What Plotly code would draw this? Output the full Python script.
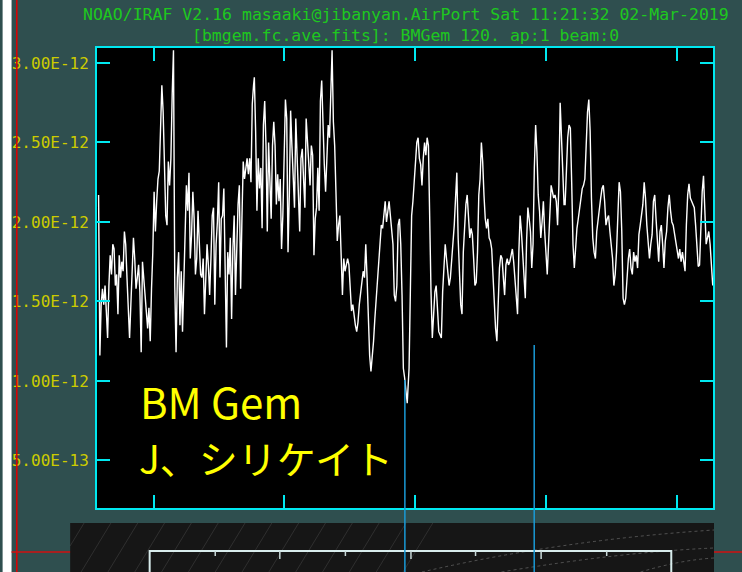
import numpy as np
import plotly.graph_objects as go

# ---------------- data (flux in units of 1e-12) ----------------
seg1_flux = [2.17,1.16,1.48,1.58,1.48,1.60,1.44,1.27,1.60,1.79,1.67,1.86,1.83,1.60,1.67,1.42,1.79,1.65,1.75,1.69,
             1.94,1.86,1.65,1.50,1.27,1.48,1.75,1.90,1.77,1.58,1.65,1.73,1.56,1.18,1.75,1.65,1.52,1.46,1.33,1.46,
             1.25,1.58,1.81,2.19,1.94,2.13,2.27,2.32,2.59,2.86,2.69,2.32,2.04,1.98,2.38,2.23,2.40,2.80,3.08,1.60,
             1.18,1.65,1.81,1.35,1.69,1.31,1.67,2.02,2.23,2.07,2.31,1.77,1.92,2.19,2.02,1.67,1.77,2.07,1.90,1.67,
             1.65,1.77,1.42,1.60,1.86,1.73,1.54,1.77,2.04,2.09,1.48,1.86,2.00,2.25,1.65,2.02,2.04,2.21,1.65,1.21,
             1.81,1.67,1.90,1.39,1.83,2.04,1.54,1.94,2.11,2.23,1.58,2.02,2.38,2.27,2.36,2.40,2.30,2.40,2.25,2.74,2.86]
seg2_flux = [2.91,2.57,2.07,2.40,2.21,2.34,1.96,2.61,2.76,2.48,1.94,2.50,2.27,2.02,2.48,2.63,2.48,2.11,2.30,2.13,
             2.27,1.83,2.04,2.42,2.77,2.65,1.81,2.17,2.70,2.48,2.21,2.09,2.65,2.44,2.27,1.94,2.40,2.46,2.27,2.09,
             2.65,2.50,2.32,2.23,2.48,2.42,1.79,2.02,2.09,2.34,2.07,2.76,2.89,2.55,2.36,2.19,2.46,2.61,2.53,2.84,
             3.08,2.63,2.48,2.19,1.88,1.98,2.04,1.79,1.54,1.77,1.69,1.73,1.77,1.73,1.56,1.44,1.48,1.39,1.35,1.31,
             1.37,1.48,1.56,1.60,1.69,1.65,1.86,1.65,1.31,1.16,1.06,1.14,1.25,1.39,1.52,1.62,1.73,1.90,1.98,1.96,
             2.07,2.13,2.00,2.09,2.13,2.04,1.94,1.86,1.54,1.50,1.60,1.98,2.02,1.86,1.54,1.08,1.02,0.91,0.86]
seg3_flux = [1.08,1.65,2.04,2.13,2.27,2.44,2.50,2.53,2.40,2.36,2.23,2.40,2.50,2.42,2.53,2.48,1.86,1.56,1.27,1.44,
             1.56,1.60,1.46,1.31,1.29,1.27,1.56,1.77,1.86,1.77,1.69,1.60,1.65,1.75,1.86,1.98,2.15,2.31,1.90,1.65,
             1.48,1.42,1.81,1.96,2.11,2.17,2.02,1.90,1.96,1.92,1.77,1.60,1.62,1.81,2.17,2.27,2.50,2.38,2.17,2.02,
             1.96,2.02,1.90,1.88,1.83,1.65,1.48,1.33,1.25,1.54,1.71,1.79,1.77,1.65,1.54,1.73,1.77,1.73,1.75,1.79,
             1.83,1.75,1.65,1.50,1.42,1.81,2.04,1.94,1.77,1.65,1.52,1.88,2.09,2.02,1.94,1.71,1.86,2.34,2.61,2.44,
             2.17,2.07,1.90,2.00,2.13,1.94,1.75,1.67,1.86,2.11,2.23,2.19,2.15,2.17,2.13,1.98,2.23,2.75,2.57,2.38,2.11]
seg4_flux = [2.11,2.34,2.53,2.61,2.59,2.25,1.86,1.71,1.86,1.96,2.02,2.09,2.17,2.21,2.23,2.27,2.48,2.69,2.77,2.57,
             2.15,1.90,1.81,1.77,1.94,2.02,2.07,2.15,2.21,2.23,2.13,1.98,2.02,2.04,1.94,1.86,1.77,1.60,1.67,1.81,
             2.02,2.25,2.19,1.94,1.52,1.48,1.52,1.65,1.77,1.83,1.71,1.67,1.81,1.75,1.79,1.71,1.92,1.98,2.04,2.11,
             2.25,2.15,1.98,1.86,1.77,1.86,1.92,2.13,2.17,2.02,1.88,1.75,1.94,1.98,1.86,1.71,1.88,1.94,2.09,2.17,
             2.07,2.00,1.98,1.92,1.88,1.81,1.77,1.83,1.75,1.81,1.75,1.69,1.98,2.17,2.24,2.15,2.13,2.11,2.09,1.98,
             1.81,1.72,1.73,1.98,2.19,2.29,2.11,1.86,1.90,1.94,1.86,1.75,1.60]
seg_flux = [seg1_flux, seg2_flux, seg3_flux, seg4_flux]
seg_wave_ranges = [(6479.0, 6538.2), (6538.5, 6596.9), (6597.6, 6656.8), (6657.2, 6713.6)]

x_tickvals = [6500, 6550, 6600, 6650, 6700]
x_ticktext = ["6500", "6550", "6600", "6650", "6700"]
y_tickvals = [5.0e-13, 1.0e-12, 1.5e-12, 2.0e-12, 2.5e-12, 3.0e-12]
y_ticktext = ["5.00E-13", "1.00E-12", "1.50E-12", "2.00E-12", "2.50E-12", "3.00E-12"]
marker_waves = [6596.0, 6645.4]
x_range = [6478.4, 6713.7]
y_range = [0.201e-12, 3.094e-12]

title1 = "NOAO/IRAF V2.16 masaaki@jibanyan.AirPort Sat 11:21:32 02-Mar-2019"
title2 = "[bmgem.fc.ave.fits]: BMGem 120. ap:1 beam:0"
label1 = "BM Gem"
label2 = "J、シリケイト"

# ---------------- build ----------------
wave = np.concatenate([np.linspace(a, b, len(f)) for (a, b), f in zip(seg_wave_ranges, seg_flux)])
flux = np.concatenate([np.array(f) for f in seg_flux]) * 1e-12

W, H = 742, 572
L, R, T, B = 93, 713, 48, 508
def px(x):
    return (x - L) / (R - L)
def py(y):
    return (B - y) / (B - T)

CYAN = "#00e8f0"
YEL = "#cccc00"
GREEN = "#1ec81e"
MONO = "DejaVu Sans Mono"

fig = go.Figure()
fig.add_trace(go.Scatter(x=wave, y=flux, mode="lines",
                         line=dict(color="white", width=1.4), hoverinfo="skip"))

axis_common = dict(showline=True, linecolor=CYAN, linewidth=2, mirror="allticks",
                   ticks="inside", ticklen=13, tickwidth=2, tickcolor=CYAN,
                   showgrid=False, zeroline=False)
fig.update_xaxes(range=x_range, tickvals=x_tickvals, ticktext=x_ticktext,
                 tickfont=dict(family=MONO, size=16, color=YEL), ticklabelstandoff=9,
                 **axis_common)
fig.update_yaxes(range=y_range, tickvals=y_tickvals, ticktext=y_ticktext,
                 tickfont=dict(family=MONO, size=16, color=YEL), ticklabelstandoff=3,
                 **axis_common)

shapes = []
# white strip at far left
shapes.append(dict(type="rect", xref="paper", yref="paper", x0=px(-2), x1=px(7), y0=py(-5), y1=py(580),
                   fillcolor="white", line=dict(width=0), layer="above"))
# red guide lines
shapes.append(dict(type="line", xref="paper", yref="paper", x0=px(12.3), x1=px(12.3), y0=py(-5), y1=py(580),
                   line=dict(color="#e00000", width=1.5), layer="above"))
shapes.append(dict(type="line", xref="paper", yref="paper", x0=px(7), x1=px(745), y0=py(552), y1=py(552),
                   line=dict(color="#d01010", width=1.5), layer="above"))
# dark image strip at the bottom
shapes.append(dict(type="rect", xref="paper", yref="paper", x0=px(66), x1=px(714), y0=py(523), y1=py(580),
                   fillcolor="#161616", line=dict(width=0), layer="above"))
# faint diagonal streaks in dark image
for k in range(14):
    x0 = 50 + k * 27
    shapes.append(dict(type="line", xref="paper", yref="paper", x0=px(max(x0, 66)), x1=px(x0 + 30),
                       y0=py(572 - (max(x0, 66) - x0) * 49 / 30), y1=py(523),
                       line=dict(color="rgba(110,110,110,0.28)", width=1), layer="above"))
# dotted arcs on the right
for (sx, sy, cx, cy, ex, ey) in [(420, 572, 560, 540, 714, 530), (500, 572, 620, 552, 714, 548),
                                 (640, 572, 680, 560, 714, 558)]:
    shapes.append(dict(type="path", xref="paper", yref="paper",
                       path=f"M {px(sx)},{py(sy)} Q {px(cx)},{py(cy)} {px(ex)},{py(ey)}",
                       line=dict(color="rgba(150,150,150,0.45)", width=1, dash="dot"), layer="above"))
# light framed box inside the image
shapes.append(dict(type="rect", xref="paper", yref="paper", x0=px(146), x1=px(671), y0=py(551), y1=py(585),
                   fillcolor="rgba(0,0,0,0)", line=dict(color="#d8ecec", width=2), layer="above"))
for i, tx in enumerate([212, 277, 343, 409, 474, 540, 606]):
    ln = 8 if i % 2 == 1 else 5
    shapes.append(dict(type="line", xref="paper", yref="paper", x0=px(tx), x1=px(tx), y0=py(551), y1=py(551 + ln),
                       line=dict(color="#c8d8d8", width=1.5), layer="above"))
# blue marker lines
for w, top in zip(marker_waves, [380, 345]):
    shapes.append(dict(type="line", xref="x", yref="paper", x0=w, x1=w, y0=py(top), y1=py(580),
                       line=dict(color="#1a9ad6", width=1.5), layer="above"))

annotations = [
    dict(text=title1, xref="paper", yref="paper", x=px(404), y=py(14.5), xanchor="center", yanchor="middle",
         showarrow=False, font=dict(family=MONO, size=16.5, color=GREEN)),
    dict(text=title2, xref="paper", yref="paper", x=px(404), y=py(35), xanchor="center", yanchor="middle",
         showarrow=False, font=dict(family=MONO, size=16.5, color=GREEN)),
    dict(text=label1, xref="paper", yref="paper", x=px(134), y=py(400), xanchor="left", yanchor="middle",
         showarrow=False, font=dict(family="Noto Sans CJK JP", size=42, color="#ffff00")),
    dict(text=label2, xref="paper", yref="paper", x=px(133), y=py(457), xanchor="left", yanchor="middle",
         showarrow=False, font=dict(family="Noto Sans CJK JP", size=39, color="#ffff00")),
]

fig.update_layout(width=W, height=H, autosize=False,
                  margin=dict(l=L, r=W - R, t=T, b=H - B, pad=0),
                  paper_bgcolor="#2f4f4f", plot_bgcolor="black",
                  showlegend=False, shapes=shapes, annotations=annotations)

fig.write_html("out.html", config={"displayModeBar": False},
               post_script="document.body.style.margin='0';document.body.style.overflow='hidden';")
